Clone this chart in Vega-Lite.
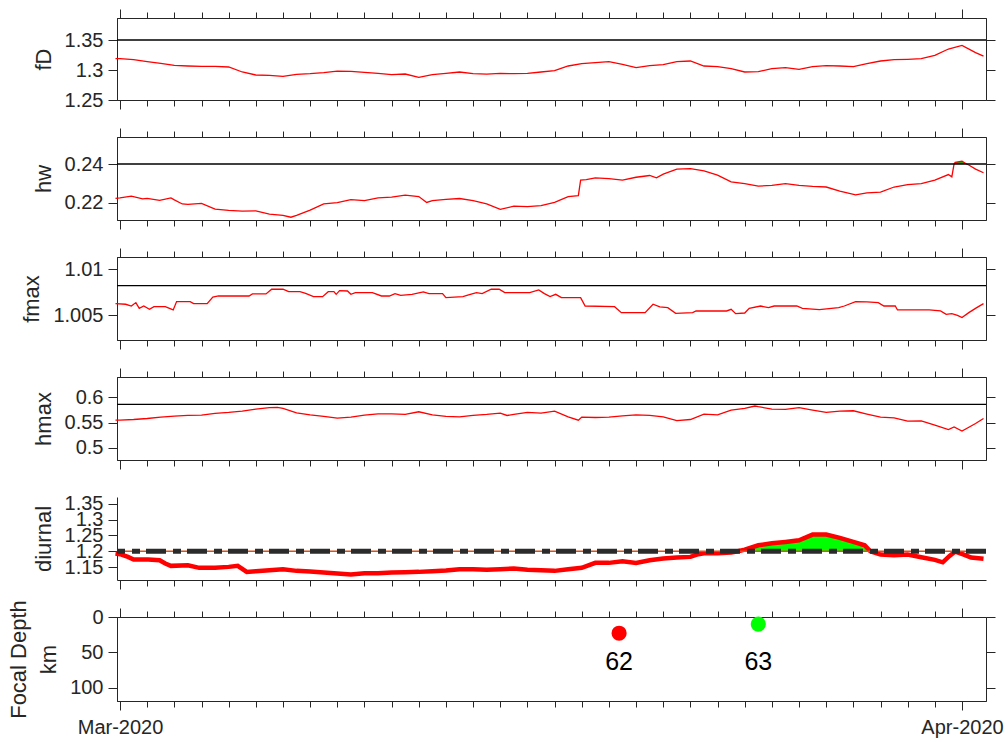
{
  "$schema": "https://vega.github.io/schema/vega-lite/v6.json",
  "padding": {"left": 7, "top": 8, "right": 5, "bottom": 5},
  "background": "white",
  "config": {
    "font": "Liberation Sans",
    "view": {"stroke": "#262626", "strokeWidth": 1},
    "axis": {"labelFont": "Liberation Sans", "titleFont": "Liberation Sans", "labelFontSize": 20, "titleFontSize": 22, "titleFontWeight": "normal", "labelColor": "#262626", "titleColor": "#262626", "domainColor": "#262626", "tickColor": "#262626", "grid": false, "domainWidth": 1, "tickWidth": 1}
  },
  "datasets": {
    "fD": [
      {"t":"2020-02-29T20:00Z","value":1.319},{"t":"2020-03-01T00:00Z","value":1.3189},{"t":"2020-03-01T12:00Z","value":1.3172},{"t":"2020-03-02T00:00Z","value":1.3139},{"t":"2020-03-02T12:00Z","value":1.3111},{"t":"2020-03-03T00:00Z","value":1.3078},{"t":"2020-03-03T12:00Z","value":1.3067},{"t":"2020-03-04T00:00Z","value":1.3061},{"t":"2020-03-04T12:00Z","value":1.3061},{"t":"2020-03-05T00:00Z","value":1.305},{"t":"2020-03-05T12:00Z","value":1.2967},{"t":"2020-03-06T00:00Z","value":1.2917},{"t":"2020-03-06T12:00Z","value":1.2911},{"t":"2020-03-07T00:00Z","value":1.2894},{"t":"2020-03-07T12:00Z","value":1.2928},{"t":"2020-03-08T00:00Z","value":1.2939},{"t":"2020-03-08T12:00Z","value":1.2956},{"t":"2020-03-09T00:00Z","value":1.2983},{"t":"2020-03-09T12:00Z","value":1.2978},{"t":"2020-03-10T00:00Z","value":1.2961},{"t":"2020-03-10T12:00Z","value":1.2944},{"t":"2020-03-11T00:00Z","value":1.2922},{"t":"2020-03-11T12:00Z","value":1.2933},{"t":"2020-03-12T00:00Z","value":1.2878},{"t":"2020-03-12T12:00Z","value":1.2922},{"t":"2020-03-13T00:00Z","value":1.2944},{"t":"2020-03-13T12:00Z","value":1.2967},{"t":"2020-03-14T00:00Z","value":1.2939},{"t":"2020-03-14T12:00Z","value":1.2933},{"t":"2020-03-15T00:00Z","value":1.2944},{"t":"2020-03-15T12:00Z","value":1.2939},{"t":"2020-03-16T00:00Z","value":1.2944},{"t":"2020-03-16T12:00Z","value":1.2967},{"t":"2020-03-17T00:00Z","value":1.2989},{"t":"2020-03-17T12:00Z","value":1.3067},{"t":"2020-03-18T00:00Z","value":1.3106},{"t":"2020-03-18T12:00Z","value":1.3122},{"t":"2020-03-19T00:00Z","value":1.3139},{"t":"2020-03-19T12:00Z","value":1.3094},{"t":"2020-03-20T00:00Z","value":1.3039},{"t":"2020-03-20T12:00Z","value":1.3072},{"t":"2020-03-21T00:00Z","value":1.3089},{"t":"2020-03-21T12:00Z","value":1.3139},{"t":"2020-03-22T00:00Z","value":1.315},{"t":"2020-03-22T12:00Z","value":1.3067},{"t":"2020-03-23T00:00Z","value":1.3056},{"t":"2020-03-23T12:00Z","value":1.3022},{"t":"2020-03-24T00:00Z","value":1.2967},{"t":"2020-03-24T12:00Z","value":1.2972},{"t":"2020-03-25T00:00Z","value":1.3022},{"t":"2020-03-25T12:00Z","value":1.3039},{"t":"2020-03-26T00:00Z","value":1.3011},{"t":"2020-03-26T12:00Z","value":1.3056},{"t":"2020-03-27T00:00Z","value":1.3072},{"t":"2020-03-27T12:00Z","value":1.3067},{"t":"2020-03-28T00:00Z","value":1.3056},{"t":"2020-03-28T12:00Z","value":1.3106},{"t":"2020-03-29T00:00Z","value":1.315},{"t":"2020-03-29T12:00Z","value":1.3172},{"t":"2020-03-30T00:00Z","value":1.3178},{"t":"2020-03-30T12:00Z","value":1.3189},{"t":"2020-03-31T00:00Z","value":1.3244},{"t":"2020-03-31T12:00Z","value":1.335},{"t":"2020-04-01T00:00Z","value":1.3411},{"t":"2020-04-01T12:00Z","value":1.3289},{"t":"2020-04-01T19:00Z","value":1.3233}
    ],
    "hw": [
      {"t":"2020-02-29T20:00Z","value":0.2224},{"t":"2020-03-01T00:00Z","value":0.2226},{"t":"2020-03-01T10:00Z","value":0.2235},{"t":"2020-03-01T20:00Z","value":0.2221},{"t":"2020-03-02T00:00Z","value":0.2224},{"t":"2020-03-02T11:00Z","value":0.2214},{"t":"2020-03-02T21:00Z","value":0.2226},{"t":"2020-03-03T00:00Z","value":0.2216},{"t":"2020-03-03T07:00Z","value":0.2195},{"t":"2020-03-03T12:00Z","value":0.2193},{"t":"2020-03-04T00:00Z","value":0.2198},{"t":"2020-03-04T12:00Z","value":0.2169},{"t":"2020-03-05T00:00Z","value":0.2162},{"t":"2020-03-05T12:00Z","value":0.2158},{"t":"2020-03-06T00:00Z","value":0.216},{"t":"2020-03-06T12:00Z","value":0.2143},{"t":"2020-03-07T00:00Z","value":0.2137},{"t":"2020-03-07T07:00Z","value":0.2127},{"t":"2020-03-07T12:00Z","value":0.2136},{"t":"2020-03-08T00:00Z","value":0.2163},{"t":"2020-03-08T12:00Z","value":0.2195},{"t":"2020-03-09T00:00Z","value":0.2202},{"t":"2020-03-09T12:00Z","value":0.2217},{"t":"2020-03-10T00:00Z","value":0.2212},{"t":"2020-03-10T12:00Z","value":0.2226},{"t":"2020-03-11T00:00Z","value":0.223},{"t":"2020-03-11T12:00Z","value":0.224},{"t":"2020-03-12T00:00Z","value":0.2233},{"t":"2020-03-12T07:00Z","value":0.2203},{"t":"2020-03-12T12:00Z","value":0.2212},{"t":"2020-03-13T00:00Z","value":0.2219},{"t":"2020-03-13T12:00Z","value":0.2223},{"t":"2020-03-14T00:00Z","value":0.2212},{"t":"2020-03-14T12:00Z","value":0.2195},{"t":"2020-03-15T00:00Z","value":0.2167},{"t":"2020-03-15T12:00Z","value":0.2184},{"t":"2020-03-16T00:00Z","value":0.2181},{"t":"2020-03-16T12:00Z","value":0.2186},{"t":"2020-03-17T00:00Z","value":0.2203},{"t":"2020-03-17T12:00Z","value":0.2233},{"t":"2020-03-17T21:00Z","value":0.2238},{"t":"2020-03-17T23:00Z","value":0.2317},{"t":"2020-03-18T04:00Z","value":0.232},{"t":"2020-03-18T12:00Z","value":0.2329},{"t":"2020-03-19T00:00Z","value":0.2325},{"t":"2020-03-19T12:00Z","value":0.2317},{"t":"2020-03-20T00:00Z","value":0.2332},{"t":"2020-03-20T12:00Z","value":0.2341},{"t":"2020-03-20T18:00Z","value":0.2329},{"t":"2020-03-21T00:00Z","value":0.2348},{"t":"2020-03-21T12:00Z","value":0.2374},{"t":"2020-03-22T00:00Z","value":0.2376},{"t":"2020-03-22T12:00Z","value":0.2365},{"t":"2020-03-23T00:00Z","value":0.2343},{"t":"2020-03-23T12:00Z","value":0.2308},{"t":"2020-03-24T00:00Z","value":0.2299},{"t":"2020-03-24T12:00Z","value":0.2287},{"t":"2020-03-25T00:00Z","value":0.229},{"t":"2020-03-25T12:00Z","value":0.2299},{"t":"2020-03-26T00:00Z","value":0.229},{"t":"2020-03-26T12:00Z","value":0.2285},{"t":"2020-03-27T00:00Z","value":0.2282},{"t":"2020-03-27T12:00Z","value":0.2261},{"t":"2020-03-28T02:00Z","value":0.2242},{"t":"2020-03-28T12:00Z","value":0.2252},{"t":"2020-03-29T00:00Z","value":0.2256},{"t":"2020-03-29T12:00Z","value":0.2282},{"t":"2020-03-30T00:00Z","value":0.2294},{"t":"2020-03-30T12:00Z","value":0.2299},{"t":"2020-03-31T00:00Z","value":0.2317},{"t":"2020-03-31T12:00Z","value":0.2346},{"t":"2020-03-31T15:00Z","value":0.2334},{"t":"2020-03-31T17:00Z","value":0.24},{"t":"2020-03-31T18:00Z","value":0.2409},{"t":"2020-04-01T00:00Z","value":0.2414},{"t":"2020-04-01T04:00Z","value":0.24},{"t":"2020-04-01T06:00Z","value":0.2395},{"t":"2020-04-01T12:00Z","value":0.2374},{"t":"2020-04-01T19:00Z","value":0.2355}
    ],
    "fmax": [
      {"t":"2020-02-29T20:00Z","value":1.00627},{"t":"2020-03-01T05:00Z","value":1.0062},{"t":"2020-03-01T10:00Z","value":1.00601},{"t":"2020-03-01T14:00Z","value":1.00638},{"t":"2020-03-01T17:00Z","value":1.00576},{"t":"2020-03-01T21:00Z","value":1.00601},{"t":"2020-03-02T02:00Z","value":1.00565},{"t":"2020-03-02T06:00Z","value":1.00594},{"t":"2020-03-02T16:00Z","value":1.00594},{"t":"2020-03-02T23:00Z","value":1.00558},{"t":"2020-03-03T02:00Z","value":1.00649},{"t":"2020-03-03T14:00Z","value":1.00649},{"t":"2020-03-03T17:00Z","value":1.00627},{"t":"2020-03-04T05:00Z","value":1.00627},{"t":"2020-03-04T10:00Z","value":1.00699},{"t":"2020-03-04T15:00Z","value":1.0071},{"t":"2020-03-05T18:00Z","value":1.0071},{"t":"2020-03-05T21:00Z","value":1.00732},{"t":"2020-03-06T09:00Z","value":1.00732},{"t":"2020-03-06T14:00Z","value":1.00783},{"t":"2020-03-07T00:00Z","value":1.00783},{"t":"2020-03-07T05:00Z","value":1.00757},{"t":"2020-03-07T15:00Z","value":1.00757},{"t":"2020-03-07T20:00Z","value":1.00739},{"t":"2020-03-08T03:00Z","value":1.00703},{"t":"2020-03-08T11:00Z","value":1.00703},{"t":"2020-03-08T16:00Z","value":1.00757},{"t":"2020-03-08T21:00Z","value":1.00757},{"t":"2020-03-08T23:00Z","value":1.00728},{"t":"2020-03-09T02:00Z","value":1.00768},{"t":"2020-03-09T09:00Z","value":1.00764},{"t":"2020-03-09T12:00Z","value":1.00728},{"t":"2020-03-09T16:00Z","value":1.00746},{"t":"2020-03-10T07:00Z","value":1.00746},{"t":"2020-03-10T15:00Z","value":1.0071},{"t":"2020-03-10T22:00Z","value":1.0071},{"t":"2020-03-11T03:00Z","value":1.00736},{"t":"2020-03-11T08:00Z","value":1.00717},{"t":"2020-03-11T18:00Z","value":1.00728},{"t":"2020-03-12T04:00Z","value":1.00754},{"t":"2020-03-12T09:00Z","value":1.00736},{"t":"2020-03-12T21:00Z","value":1.00736},{"t":"2020-03-13T00:00Z","value":1.00692},{"t":"2020-03-13T15:00Z","value":1.00703},{"t":"2020-03-13T20:00Z","value":1.00721},{"t":"2020-03-14T03:00Z","value":1.00746},{"t":"2020-03-14T08:00Z","value":1.00736},{"t":"2020-03-14T16:00Z","value":1.00783},{"t":"2020-03-14T23:00Z","value":1.00783},{"t":"2020-03-15T04:00Z","value":1.00746},{"t":"2020-03-16T02:00Z","value":1.00746},{"t":"2020-03-16T10:00Z","value":1.00775},{"t":"2020-03-16T15:00Z","value":1.00736},{"t":"2020-03-16T20:00Z","value":1.00703},{"t":"2020-03-17T01:00Z","value":1.00728},{"t":"2020-03-17T06:00Z","value":1.00692},{"t":"2020-03-17T23:00Z","value":1.00692},{"t":"2020-03-18T03:00Z","value":1.00601},{"t":"2020-03-19T05:00Z","value":1.00594},{"t":"2020-03-19T11:00Z","value":1.00529},{"t":"2020-03-20T08:00Z","value":1.00529},{"t":"2020-03-20T15:00Z","value":1.0062},{"t":"2020-03-20T21:00Z","value":1.00591},{"t":"2020-03-21T04:00Z","value":1.00583},{"t":"2020-03-21T11:00Z","value":1.00522},{"t":"2020-03-22T02:00Z","value":1.00529},{"t":"2020-03-22T05:00Z","value":1.00547},{"t":"2020-03-23T08:00Z","value":1.00547},{"t":"2020-03-23T12:00Z","value":1.00565},{"t":"2020-03-23T16:00Z","value":1.00518},{"t":"2020-03-24T00:00Z","value":1.00525},{"t":"2020-03-24T04:00Z","value":1.00576},{"t":"2020-03-24T14:00Z","value":1.00601},{"t":"2020-03-24T21:00Z","value":1.00583},{"t":"2020-03-25T02:00Z","value":1.00601},{"t":"2020-03-25T22:00Z","value":1.00601},{"t":"2020-03-26T03:00Z","value":1.00576},{"t":"2020-03-26T18:00Z","value":1.00562},{"t":"2020-03-27T11:00Z","value":1.00583},{"t":"2020-03-27T16:00Z","value":1.00601},{"t":"2020-03-28T02:00Z","value":1.00649},{"t":"2020-03-28T12:00Z","value":1.00645},{"t":"2020-03-28T22:00Z","value":1.00638},{"t":"2020-03-29T03:00Z","value":1.00601},{"t":"2020-03-29T13:00Z","value":1.00601},{"t":"2020-03-29T15:00Z","value":1.00558},{"t":"2020-03-30T19:00Z","value":1.00558},{"t":"2020-03-31T05:00Z","value":1.00547},{"t":"2020-03-31T10:00Z","value":1.00511},{"t":"2020-03-31T15:00Z","value":1.00518},{"t":"2020-03-31T20:00Z","value":1.005},{"t":"2020-04-01T00:00Z","value":1.00475},{"t":"2020-04-01T06:00Z","value":1.00529},{"t":"2020-04-01T13:00Z","value":1.00583},{"t":"2020-04-01T19:00Z","value":1.00627}
    ],
    "hmax": [
      {"t":"2020-02-29T20:00Z","value":0.5547},{"t":"2020-03-01T00:00Z","value":0.5547},{"t":"2020-03-01T12:00Z","value":0.556},{"t":"2020-03-02T00:00Z","value":0.558},{"t":"2020-03-02T12:00Z","value":0.5607},{"t":"2020-03-03T00:00Z","value":0.5627},{"t":"2020-03-03T12:00Z","value":0.564},{"t":"2020-03-04T00:00Z","value":0.5647},{"t":"2020-03-04T12:00Z","value":0.568},{"t":"2020-03-05T00:00Z","value":0.57},{"t":"2020-03-05T12:00Z","value":0.5727},{"t":"2020-03-06T00:00Z","value":0.5767},{"t":"2020-03-06T12:00Z","value":0.5793},{"t":"2020-03-06T19:00Z","value":0.58},{"t":"2020-03-07T00:00Z","value":0.578},{"t":"2020-03-07T12:00Z","value":0.5693},{"t":"2020-03-08T00:00Z","value":0.5653},{"t":"2020-03-08T12:00Z","value":0.562},{"t":"2020-03-09T00:00Z","value":0.5587},{"t":"2020-03-09T12:00Z","value":0.5607},{"t":"2020-03-10T00:00Z","value":0.5647},{"t":"2020-03-10T12:00Z","value":0.5673},{"t":"2020-03-11T00:00Z","value":0.5673},{"t":"2020-03-11T12:00Z","value":0.566},{"t":"2020-03-12T00:00Z","value":0.5713},{"t":"2020-03-12T12:00Z","value":0.5653},{"t":"2020-03-13T00:00Z","value":0.562},{"t":"2020-03-13T12:00Z","value":0.5613},{"t":"2020-03-14T00:00Z","value":0.564},{"t":"2020-03-14T12:00Z","value":0.566},{"t":"2020-03-15T00:00Z","value":0.5687},{"t":"2020-03-15T06:00Z","value":0.564},{"t":"2020-03-15T12:00Z","value":0.566},{"t":"2020-03-16T00:00Z","value":0.57},{"t":"2020-03-16T12:00Z","value":0.5687},{"t":"2020-03-17T00:00Z","value":0.5727},{"t":"2020-03-17T12:00Z","value":0.5613},{"t":"2020-03-17T21:00Z","value":0.5547},{"t":"2020-03-18T00:00Z","value":0.5607},{"t":"2020-03-18T12:00Z","value":0.56},{"t":"2020-03-19T00:00Z","value":0.5607},{"t":"2020-03-19T12:00Z","value":0.5633},{"t":"2020-03-20T00:00Z","value":0.5653},{"t":"2020-03-20T12:00Z","value":0.564},{"t":"2020-03-21T00:00Z","value":0.5613},{"t":"2020-03-21T12:00Z","value":0.554},{"t":"2020-03-22T00:00Z","value":0.556},{"t":"2020-03-22T12:00Z","value":0.5667},{"t":"2020-03-23T00:00Z","value":0.5653},{"t":"2020-03-23T12:00Z","value":0.5747},{"t":"2020-03-24T00:00Z","value":0.578},{"t":"2020-03-24T09:00Z","value":0.5827},{"t":"2020-03-24T12:00Z","value":0.5813},{"t":"2020-03-25T00:00Z","value":0.5767},{"t":"2020-03-25T12:00Z","value":0.576},{"t":"2020-03-26T00:00Z","value":0.5793},{"t":"2020-03-26T12:00Z","value":0.5747},{"t":"2020-03-27T00:00Z","value":0.57},{"t":"2020-03-27T12:00Z","value":0.5727},{"t":"2020-03-28T00:00Z","value":0.5733},{"t":"2020-03-28T12:00Z","value":0.5667},{"t":"2020-03-29T00:00Z","value":0.5607},{"t":"2020-03-29T12:00Z","value":0.5593},{"t":"2020-03-30T00:00Z","value":0.5527},{"t":"2020-03-30T12:00Z","value":0.5533},{"t":"2020-03-31T00:00Z","value":0.5447},{"t":"2020-03-31T12:00Z","value":0.536},{"t":"2020-03-31T17:00Z","value":0.5413},{"t":"2020-04-01T00:00Z","value":0.5333},{"t":"2020-04-01T12:00Z","value":0.548},{"t":"2020-04-01T19:00Z","value":0.558}
    ],
    "diurnal": [
      {"t":"2020-02-29T20:00Z","value":1.1926},{"t":"2020-03-01T00:00Z","value":1.1905},{"t":"2020-03-01T07:00Z","value":1.1821},{"t":"2020-03-01T12:00Z","value":1.1737},{"t":"2020-03-02T01:00Z","value":1.1737},{"t":"2020-03-02T11:00Z","value":1.1716},{"t":"2020-03-02T16:00Z","value":1.161},{"t":"2020-03-02T21:00Z","value":1.1537},{"t":"2020-03-03T12:00Z","value":1.1558},{"t":"2020-03-03T22:00Z","value":1.1474},{"t":"2020-03-04T12:00Z","value":1.1474},{"t":"2020-03-05T00:00Z","value":1.1505},{"t":"2020-03-05T08:00Z","value":1.1537},{"t":"2020-03-05T16:00Z","value":1.1347},{"t":"2020-03-06T00:00Z","value":1.1368},{"t":"2020-03-06T12:00Z","value":1.14},{"t":"2020-03-07T00:00Z","value":1.1432},{"t":"2020-03-07T12:00Z","value":1.1379},{"t":"2020-03-08T00:00Z","value":1.1358},{"t":"2020-03-08T12:00Z","value":1.1326},{"t":"2020-03-09T00:00Z","value":1.1295},{"t":"2020-03-09T12:00Z","value":1.1263},{"t":"2020-03-10T00:00Z","value":1.1305},{"t":"2020-03-10T12:00Z","value":1.1305},{"t":"2020-03-11T00:00Z","value":1.1326},{"t":"2020-03-11T12:00Z","value":1.1337},{"t":"2020-03-12T00:00Z","value":1.1347},{"t":"2020-03-12T12:00Z","value":1.1368},{"t":"2020-03-13T00:00Z","value":1.1389},{"t":"2020-03-13T12:00Z","value":1.1432},{"t":"2020-03-14T00:00Z","value":1.1432},{"t":"2020-03-14T12:00Z","value":1.1411},{"t":"2020-03-15T00:00Z","value":1.1432},{"t":"2020-03-15T12:00Z","value":1.1453},{"t":"2020-03-16T00:00Z","value":1.1411},{"t":"2020-03-16T12:00Z","value":1.14},{"t":"2020-03-17T00:00Z","value":1.1379},{"t":"2020-03-17T12:00Z","value":1.1432},{"t":"2020-03-18T00:00Z","value":1.1474},{"t":"2020-03-18T12:00Z","value":1.1632},{"t":"2020-03-19T00:00Z","value":1.1632},{"t":"2020-03-19T12:00Z","value":1.1684},{"t":"2020-03-20T00:00Z","value":1.1632},{"t":"2020-03-20T12:00Z","value":1.1716},{"t":"2020-03-21T00:00Z","value":1.1768},{"t":"2020-03-21T12:00Z","value":1.18},{"t":"2020-03-22T00:00Z","value":1.1821},{"t":"2020-03-22T07:00Z","value":1.1905},{"t":"2020-03-22T12:00Z","value":1.1937},{"t":"2020-03-23T00:00Z","value":1.1937},{"t":"2020-03-23T12:00Z","value":1.1958},{"t":"2020-03-23T18:00Z","value":1.2},{"t":"2020-03-24T00:00Z","value":1.205},{"t":"2020-03-24T12:00Z","value":1.2189},{"t":"2020-03-25T00:00Z","value":1.225},{"t":"2020-03-25T12:00Z","value":1.2295},{"t":"2020-03-26T00:00Z","value":1.2347},{"t":"2020-03-26T12:00Z","value":1.2526},{"t":"2020-03-27T00:00Z","value":1.2526},{"t":"2020-03-27T12:00Z","value":1.2421},{"t":"2020-03-28T00:00Z","value":1.2295},{"t":"2020-03-28T10:00Z","value":1.2189},{"t":"2020-03-28T15:00Z","value":1.2},{"t":"2020-03-29T00:00Z","value":1.1895},{"t":"2020-03-29T12:00Z","value":1.1874},{"t":"2020-03-30T00:00Z","value":1.1895},{"t":"2020-03-30T12:00Z","value":1.1811},{"t":"2020-03-31T00:00Z","value":1.1726},{"t":"2020-03-31T07:00Z","value":1.165},{"t":"2020-03-31T13:00Z","value":1.185},{"t":"2020-03-31T18:00Z","value":1.199},{"t":"2020-04-01T01:00Z","value":1.19},{"t":"2020-04-01T08:00Z","value":1.18},{"t":"2020-04-01T19:00Z","value":1.176}
    ],
    "quakes": [
      {"t":"2020-03-19T09:00Z","depth":23,"id":"62"},
      {"t":"2020-03-24T12:00Z","depth":10,"id":"63"}
    ]
  },
  "spacing": 37,
  "bounds": "flush",
  "vconcat": [
    {
      "width": 869, "height": 82,
      "layer": [
        {"data": {"name": "fD"}, "mark": {"type": "line", "color": "#ff0000", "strokeWidth": 1.3},
         "encoding": {
           "x": {"field": "t", "type": "temporal", "scale": {"type": "utc", "domain": [{"year": 2020, "month": 2, "date": 29, "hours": 21, "minutes": 20, "utc": true}, {"year": 2020, "month": 4, "date": 1, "hours": 21, "minutes": 12, "utc": true}]},
                 "axis": {"orient": "bottom", "title": null, "labels": false, "values": [1583020800000,1583107200000,1583193600000,1583280000000,1583366400000,1583452800000,1583539200000,1583625600000,1583712000000,1583798400000,1583884800000,1583971200000,1584057600000,1584144000000,1584230400000,1584316800000,1584403200000,1584489600000,1584576000000,1584662400000,1584748800000,1584835200000,1584921600000,1585008000000,1585094400000,1585180800000,1585267200000,1585353600000,1585440000000,1585526400000,1585612800000,1585699200000], "tickSize": {"condition": {"test": "utcdate(datum.value)==1", "value": 9}, "value": 6}}},
           "y": {"field": "value", "type": "quantitative", "scale": {"domain": [1.25, 1.3867], "nice": false, "zero": false},
                 "axis": {"title": "fD", "values": [1.25, 1.3, 1.35], "format": "~r", "tickSize": 9, "labelPadding": 5, "titlePadding": 9, "labelOverlap": false}}
         }},
        {"data": {"values": [{"threshold": 1.35}]}, "mark": {"type": "rule", "color": "#000000", "strokeWidth": 1.3},
         "encoding": {"y": {"field": "threshold", "type": "quantitative", "scale": {"domain": [1.25, 1.3867], "nice": false, "zero": false}, "axis": null}}},
        {"data": {"name": "fD"}, "mark": {"type": "line", "opacity": 0},
         "encoding": {
           "x": {"field": "t", "type": "temporal", "axis": {"orient": "top", "title": null, "labels": false, "values": [1583020800000,1583107200000,1583193600000,1583280000000,1583366400000,1583452800000,1583539200000,1583625600000,1583712000000,1583798400000,1583884800000,1583971200000,1584057600000,1584144000000,1584230400000,1584316800000,1584403200000,1584489600000,1584576000000,1584662400000,1584748800000,1584835200000,1584921600000,1585008000000,1585094400000,1585180800000,1585267200000,1585353600000,1585440000000,1585526400000,1585612800000,1585699200000], "tickSize": {"condition": {"test": "utcdate(datum.value)==1", "value": 9}, "value": 6}}},
           "y": {"field": "value", "type": "quantitative", "axis": {"orient": "right", "title": null, "labels": false, "domain": false, "values": [1.25, 1.3, 1.35], "tickSize": 9}}
         }}
      ],
      "resolve": {"axis": {"x": "independent", "y": "independent"}}
    },
    {
      "width": 869, "height": 83,
      "layer": [
        {"data": {"name": "hw"}, "transform": [{"filter": "datum.value >= 0.24"}], "mark": {"type": "area", "color": "#00cc00", "opacity": 1},
         "encoding": {
           "x": {"field": "t", "type": "temporal", "axis": null},
           "y": {"field": "value", "type": "quantitative", "axis": null},
           "y2": {"datum": 0.24}
         }},
        {"data": {"name": "hw"}, "mark": {"type": "line", "color": "#ff0000", "strokeWidth": 1.3},
         "encoding": {
           "x": {"field": "t", "type": "temporal", "scale": {"type": "utc", "domain": [{"year": 2020, "month": 2, "date": 29, "hours": 21, "minutes": 20, "utc": true}, {"year": 2020, "month": 4, "date": 1, "hours": 21, "minutes": 12, "utc": true}]},
                 "axis": {"orient": "bottom", "title": null, "labels": false, "values": [1583020800000,1583107200000,1583193600000,1583280000000,1583366400000,1583452800000,1583539200000,1583625600000,1583712000000,1583798400000,1583884800000,1583971200000,1584057600000,1584144000000,1584230400000,1584316800000,1584403200000,1584489600000,1584576000000,1584662400000,1584748800000,1584835200000,1584921600000,1585008000000,1585094400000,1585180800000,1585267200000,1585353600000,1585440000000,1585526400000,1585612800000,1585699200000], "tickSize": {"condition": {"test": "utcdate(datum.value)==1", "value": 9}, "value": 6}}},
           "y": {"field": "value", "type": "quantitative", "scale": {"domain": [0.21128, 0.25385], "nice": false, "zero": false},
                 "axis": {"title": "hw", "values": [0.22, 0.24], "format": "~r", "tickSize": 9, "labelPadding": 5, "titlePadding": 9, "labelOverlap": false}}
         }},
        {"data": {"values": [{"threshold": 0.24}]}, "mark": {"type": "rule", "color": "#000000", "strokeWidth": 1.3},
         "encoding": {"y": {"field": "threshold", "type": "quantitative", "axis": null}}},
        {"data": {"name": "hw"}, "mark": {"type": "line", "opacity": 0},
         "encoding": {
           "x": {"field": "t", "type": "temporal", "axis": {"orient": "top", "title": null, "labels": false, "values": [1583020800000,1583107200000,1583193600000,1583280000000,1583366400000,1583452800000,1583539200000,1583625600000,1583712000000,1583798400000,1583884800000,1583971200000,1584057600000,1584144000000,1584230400000,1584316800000,1584403200000,1584489600000,1584576000000,1584662400000,1584748800000,1584835200000,1584921600000,1585008000000,1585094400000,1585180800000,1585267200000,1585353600000,1585440000000,1585526400000,1585612800000,1585699200000], "tickSize": {"condition": {"test": "utcdate(datum.value)==1", "value": 9}, "value": 6}}},
           "y": {"field": "value", "type": "quantitative", "axis": {"orient": "right", "title": null, "labels": false, "domain": false, "values": [0.22, 0.24], "tickSize": 9}}
         }}
      ],
      "resolve": {"axis": {"x": "independent", "y": "independent"}}
    },
    {
      "width": 869, "height": 83,
      "layer": [
        {"data": {"name": "fmax"}, "mark": {"type": "line", "color": "#ff0000", "strokeWidth": 1.3},
         "encoding": {
           "x": {"field": "t", "type": "temporal", "scale": {"type": "utc", "domain": [{"year": 2020, "month": 2, "date": 29, "hours": 21, "minutes": 20, "utc": true}, {"year": 2020, "month": 4, "date": 1, "hours": 21, "minutes": 12, "utc": true}]},
                 "axis": {"orient": "bottom", "title": null, "labels": false, "values": [1583020800000,1583107200000,1583193600000,1583280000000,1583366400000,1583452800000,1583539200000,1583625600000,1583712000000,1583798400000,1583884800000,1583971200000,1584057600000,1584144000000,1584230400000,1584316800000,1584403200000,1584489600000,1584576000000,1584662400000,1584748800000,1584835200000,1584921600000,1585008000000,1585094400000,1585180800000,1585267200000,1585353600000,1585440000000,1585526400000,1585612800000,1585699200000], "tickSize": {"condition": {"test": "utcdate(datum.value)==1", "value": 9}, "value": 6}}},
           "y": {"field": "value", "type": "quantitative", "scale": {"domain": [1.002315, 1.011337], "nice": false, "zero": false},
                 "axis": {"title": "fmax", "values": [1.005, 1.01], "format": "~r", "tickSize": 9, "labelPadding": 5, "titlePadding": 9, "labelOverlap": false}}
         }},
        {"data": {"values": [{"threshold": 1.00822}]}, "mark": {"type": "rule", "color": "#000000", "strokeWidth": 1.3},
         "encoding": {"y": {"field": "threshold", "type": "quantitative", "axis": null}}},
        {"data": {"name": "fmax"}, "mark": {"type": "line", "opacity": 0},
         "encoding": {
           "x": {"field": "t", "type": "temporal", "axis": {"orient": "top", "title": null, "labels": false, "values": [1583020800000,1583107200000,1583193600000,1583280000000,1583366400000,1583452800000,1583539200000,1583625600000,1583712000000,1583798400000,1583884800000,1583971200000,1584057600000,1584144000000,1584230400000,1584316800000,1584403200000,1584489600000,1584576000000,1584662400000,1584748800000,1584835200000,1584921600000,1585008000000,1585094400000,1585180800000,1585267200000,1585353600000,1585440000000,1585526400000,1585612800000,1585699200000], "tickSize": {"condition": {"test": "utcdate(datum.value)==1", "value": 9}, "value": 6}}},
           "y": {"field": "value", "type": "quantitative", "axis": {"orient": "right", "title": null, "labels": false, "domain": false, "values": [1.005, 1.01], "tickSize": 9}}
         }}
      ],
      "resolve": {"axis": {"x": "independent", "y": "independent"}}
    },
    {
      "width": 869, "height": 83,
      "layer": [
        {"data": {"name": "hmax"}, "mark": {"type": "line", "color": "#ff0000", "strokeWidth": 1.3},
         "encoding": {
           "x": {"field": "t", "type": "temporal", "scale": {"type": "utc", "domain": [{"year": 2020, "month": 2, "date": 29, "hours": 21, "minutes": 20, "utc": true}, {"year": 2020, "month": 4, "date": 1, "hours": 21, "minutes": 12, "utc": true}]},
                 "axis": {"orient": "bottom", "title": null, "labels": false, "values": [1583020800000,1583107200000,1583193600000,1583280000000,1583366400000,1583452800000,1583539200000,1583625600000,1583712000000,1583798400000,1583884800000,1583971200000,1584057600000,1584144000000,1584230400000,1584316800000,1584403200000,1584489600000,1584576000000,1584662400000,1584748800000,1584835200000,1584921600000,1585008000000,1585094400000,1585180800000,1585267200000,1585353600000,1585440000000,1585526400000,1585612800000,1585699200000], "tickSize": {"condition": {"test": "utcdate(datum.value)==1", "value": 9}, "value": 6}}},
           "y": {"field": "value", "type": "quantitative", "scale": {"domain": [0.476, 0.64], "nice": false, "zero": false},
                 "axis": {"title": "hmax", "values": [0.5, 0.55, 0.6], "format": "~r", "tickSize": 9, "labelPadding": 5, "titlePadding": 9, "labelOverlap": false}}
         }},
        {"data": {"values": [{"threshold": 0.586}]}, "mark": {"type": "rule", "color": "#000000", "strokeWidth": 1.3},
         "encoding": {"y": {"field": "threshold", "type": "quantitative", "axis": null}}},
        {"data": {"name": "hmax"}, "mark": {"type": "line", "opacity": 0},
         "encoding": {
           "x": {"field": "t", "type": "temporal", "axis": {"orient": "top", "title": null, "labels": false, "values": [1583020800000,1583107200000,1583193600000,1583280000000,1583366400000,1583452800000,1583539200000,1583625600000,1583712000000,1583798400000,1583884800000,1583971200000,1584057600000,1584144000000,1584230400000,1584316800000,1584403200000,1584489600000,1584576000000,1584662400000,1584748800000,1584835200000,1584921600000,1585008000000,1585094400000,1585180800000,1585267200000,1585353600000,1585440000000,1585526400000,1585612800000,1585699200000], "tickSize": {"condition": {"test": "utcdate(datum.value)==1", "value": 9}, "value": 6}}},
           "y": {"field": "value", "type": "quantitative", "axis": {"orient": "right", "title": null, "labels": false, "domain": false, "values": [0.5, 0.55, 0.6], "tickSize": 9}}
         }}
      ],
      "resolve": {"axis": {"x": "independent", "y": "independent"}}
    },
    {
      "width": 869, "height": 83,
      "view": {"stroke": null},
      "layer": [
        {"data": {"name": "diurnal"}, "transform": [{"filter": "datum.value >= 1.2"}], "mark": {"type": "area", "color": "#00ff00"},
         "encoding": {
           "x": {"field": "t", "type": "temporal", "axis": null},
           "y": {"field": "value", "type": "quantitative", "axis": null},
           "y2": {"datum": 1.2}
         }},
        {"data": {"name": "diurnal"}, "mark": {"type": "line", "color": "#ff0000", "strokeWidth": 4.5},
         "encoding": {
           "x": {"field": "t", "type": "temporal", "scale": {"type": "utc", "domain": [{"year": 2020, "month": 2, "date": 29, "hours": 21, "minutes": 20, "utc": true}, {"year": 2020, "month": 4, "date": 1, "hours": 21, "minutes": 12, "utc": true}]},
                 "axis": {"orient": "bottom", "title": null, "labels": false, "values": [1583020800000,1583107200000,1583193600000,1583280000000,1583366400000,1583452800000,1583539200000,1583625600000,1583712000000,1583798400000,1583884800000,1583971200000,1584057600000,1584144000000,1584230400000,1584316800000,1584403200000,1584489600000,1584576000000,1584662400000,1584748800000,1584835200000,1584921600000,1585008000000,1585094400000,1585180800000,1585267200000,1585353600000,1585440000000,1585526400000,1585612800000,1585699200000], "tickSize": {"condition": {"test": "utcdate(datum.value)==1", "value": 9}, "value": 6}}},
           "y": {"field": "value", "type": "quantitative", "scale": {"domain": [1.109, 1.3715], "nice": false, "zero": false},
                 "axis": {"title": "diurnal", "values": [1.15, 1.2, 1.25, 1.3, 1.35], "format": "~r", "tickSize": 9, "labelPadding": 5, "titlePadding": 9, "labelOverlap": false}}
         }},
        {"data": {"values": [{"threshold": 1.2}]}, "mark": {"type": "rule", "color": "#d95319", "strokeWidth": 1.5},
         "encoding": {"y": {"field": "threshold", "type": "quantitative", "axis": null}}},
        {"data": {"values": [{"threshold": 1.2}]}, "mark": {"type": "rule", "color": "#2b2b2b", "strokeWidth": 5, "strokeDash": [20, 6, 8, 7]},
         "encoding": {"y": {"field": "threshold", "type": "quantitative", "axis": null}}}
      ],
      "resolve": {"axis": {"x": "independent", "y": "independent"}}
    },
    {
      "width": 869, "height": 84,
      "layer": [
        {"data": {"name": "quakes"}, "mark": {"type": "circle", "size": 230, "opacity": 1},
         "encoding": {
           "x": {"field": "t", "type": "temporal", "scale": {"type": "utc", "domain": [{"year": 2020, "month": 2, "date": 29, "hours": 21, "minutes": 20, "utc": true}, {"year": 2020, "month": 4, "date": 1, "hours": 21, "minutes": 12, "utc": true}]},
                 "axis": {"orient": "bottom", "title": null, "labels": true, "labelExpr": "utcdate(datum.value)==1 ? utcFormat(datum.value, '%b-%Y') : ''", "labelOverlap": false, "labelFlush": false, "labelPadding": 7, "values": [1583020800000,1583107200000,1583193600000,1583280000000,1583366400000,1583452800000,1583539200000,1583625600000,1583712000000,1583798400000,1583884800000,1583971200000,1584057600000,1584144000000,1584230400000,1584316800000,1584403200000,1584489600000,1584576000000,1584662400000,1584748800000,1584835200000,1584921600000,1585008000000,1585094400000,1585180800000,1585267200000,1585353600000,1585440000000,1585526400000,1585612800000,1585699200000], "tickSize": {"condition": {"test": "utcdate(datum.value)==1", "value": 9}, "value": 6}}},
           "y": {"field": "depth", "type": "quantitative", "scale": {"domain": [0, 119], "reverse": true, "nice": false, "zero": false},
                 "axis": {"title": ["Focal Depth", "km"], "titleLineHeight": 30, "values": [0, 50, 100], "format": "~r", "tickSize": 9, "labelPadding": 5, "titlePadding": 9, "labelOverlap": false}},
           "color": {"field": "id", "type": "nominal", "scale": {"domain": ["62", "63"], "range": ["#ff0000", "#00ff00"]}, "legend": null}
         }},
        {"data": {"name": "quakes"}, "mark": {"type": "text", "fontSize": 25, "color": "#000000", "font": "Liberation Sans"},
         "encoding": {
           "x": {"field": "t", "type": "temporal", "axis": null},
           "y": {"datum": 64, "type": "quantitative", "axis": null},
           "text": {"field": "id"}
         }},
        {"data": {"name": "quakes"}, "mark": {"type": "point", "opacity": 0},
         "encoding": {
           "x": {"field": "t", "type": "temporal", "axis": {"orient": "top", "title": null, "labels": false, "values": [1583020800000,1583107200000,1583193600000,1583280000000,1583366400000,1583452800000,1583539200000,1583625600000,1583712000000,1583798400000,1583884800000,1583971200000,1584057600000,1584144000000,1584230400000,1584316800000,1584403200000,1584489600000,1584576000000,1584662400000,1584748800000,1584835200000,1584921600000,1585008000000,1585094400000,1585180800000,1585267200000,1585353600000,1585440000000,1585526400000,1585612800000,1585699200000], "tickSize": {"condition": {"test": "utcdate(datum.value)==1", "value": 9}, "value": 6}}},
           "y": {"field": "depth", "type": "quantitative", "axis": {"orient": "right", "title": null, "labels": false, "domain": false, "values": [0, 50, 100], "tickSize": 9}}
         }}
      ],
      "resolve": {"axis": {"x": "independent", "y": "independent"}}
    }
  ]
}
